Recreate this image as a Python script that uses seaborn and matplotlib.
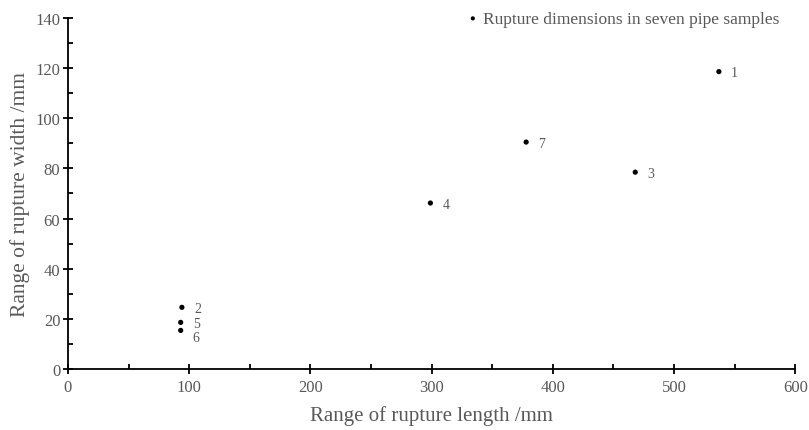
import pandas as pd
import numpy as np
import matplotlib
matplotlib.use("Agg")
import matplotlib.pyplot as plt
import seaborn as sns
from matplotlib.ticker import MultipleLocator

# データ（7つの管サンプルの破断寸法）
sample_id = ["1", "2", "3", "4", "5", "6", "7"]
rupture_length = [537, 94, 468, 299, 93, 93, 378]
rupture_width = [118.6, 24.6, 78.5, 66.2, 18.6, 15.4, 90.5]

df = pd.DataFrame({"sample": sample_id, "length": rupture_length, "width": rupture_width})

sns.set_style("white")
plt.rcParams["font.family"] = ["Liberation Serif", "DejaVu Serif"]
grey = "#595959"

fig = plt.figure(figsize=(8.09, 4.31), dpi=100)
ax = fig.add_axes([0.084, 0.1415, 0.899, 0.8145])

sns.scatterplot(data=df, x="length", y="width", ax=ax, color="black", s=14,
                edgecolor="none", label="Rupture dimensions in seven pipe samples")

# ラベルのずれ（重なり回避）
dy = {"5": -0.2, "6": -2.4}
for _, r in df.iterrows():
    ax.text(r["length"] + 10, r["width"] + dy.get(r["sample"], 0) - 0.4, r["sample"],
            fontsize=10, color=grey, va="center", ha="left")

ax.set_xlim(0, 600)
ax.set_ylim(0, 140)
ax.xaxis.set_major_locator(MultipleLocator(100))
ax.xaxis.set_minor_locator(MultipleLocator(50))
ax.yaxis.set_major_locator(MultipleLocator(20))
ax.yaxis.set_minor_locator(MultipleLocator(10))
ax.tick_params(which="both", bottom=True, left=True)
ax.tick_params(which="major", direction="inout", length=7, width=1.3, colors="black",
               labelcolor=grey, labelsize=12)
ax.tick_params(which="minor", direction="in", length=3.5, width=1.3, colors="black")
ax.tick_params(axis="x", pad=4)
ax.tick_params(axis="y", pad=2)

for s in ["top", "right"]:
    ax.spines[s].set_visible(False)
for s in ["left", "bottom"]:
    ax.spines[s].set_color("black")
    ax.spines[s].set_linewidth(1.3)

ax.set_xlabel("Range of rupture length /mm", fontsize=15, color=grey, labelpad=7)
ax.set_ylabel("Range of rupture width /mm", fontsize=15.5, color=grey, labelpad=4)

leg = ax.legend(loc="upper right", bbox_to_anchor=(1.0, 1.065), frameon=False,
                fontsize=12.5, handletextpad=0.0, handlelength=1.2, markerscale=0.8)
for t in leg.get_texts():
    t.set_color(grey)

fig.savefig("out.png", dpi=100)
